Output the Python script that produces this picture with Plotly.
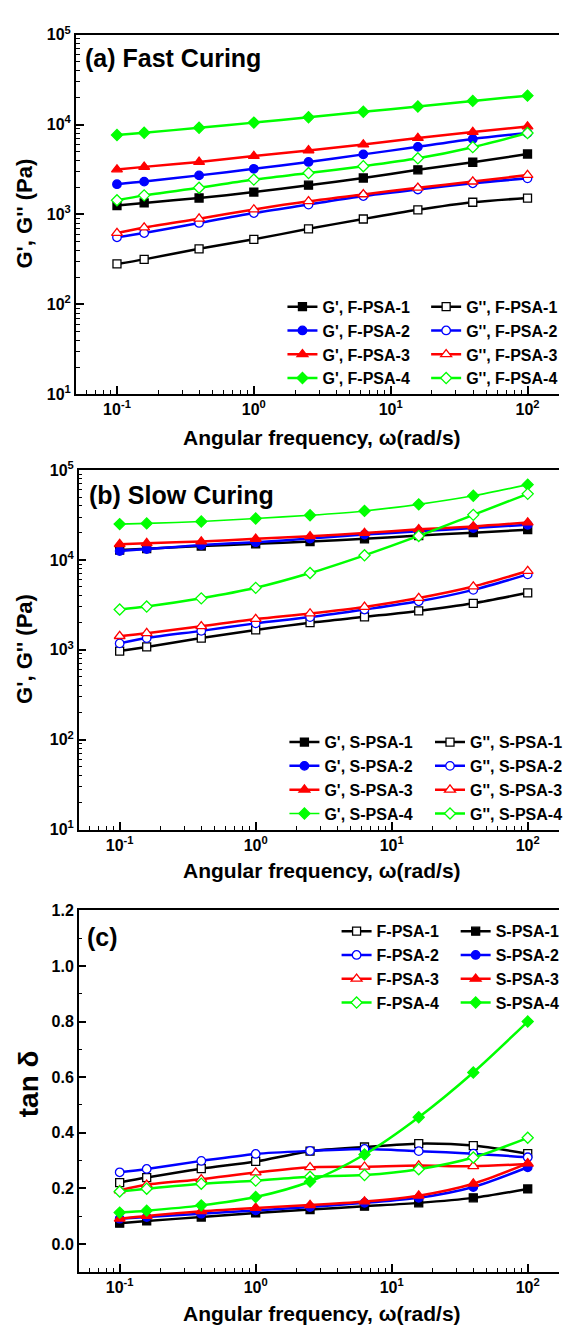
import plotly.graph_objects as go

W, H = 568, 1336

# ---------------- data ----------------
freq = [0.1, 0.158, 0.398, 1.0, 2.51, 6.31, 15.8, 39.8, 100]

# (a) Fast curing
a_Gp_1 = [1255, 1342, 1522, 1771, 2113, 2542, 3135, 3803, 4700]
a_Gpp_1 = [281, 316, 414, 528, 691, 889, 1125, 1365, 1521]
a_Gp_2 = [2168, 2317, 2718, 3214, 3837, 4655, 5646, 6906, 8035]
a_Gpp_2 = [556, 620, 804, 1035, 1286, 1600, 1892, 2220, 2518]
a_Gp_3 = [3162, 3380, 3837, 4467, 5155, 5990, 7080, 8240, 9510]
a_Gpp_3 = [620, 715, 897, 1135, 1400, 1670, 1977, 2317, 2742]
a_Gp_4 = [7640, 8110, 9190, 10500, 12030, 13870, 15860, 18320, 20950]
a_Gpp_4 = [1437, 1629, 1977, 2440, 2884, 3439, 4207, 5598, 8035]

# (b) Slow curing
b_Gp_1 = [12880, 13320, 14270, 15100, 16020, 17150, 18650, 20110, 21680]
b_Gpp_1 = [967, 1075, 1349, 1663, 2003, 2327, 2709, 3289, 4306]
b_Gp_2 = [12560, 13210, 14620, 15750, 17280, 19130, 20810, 22630, 24620]
b_Gpp_2 = [1178, 1349, 1623, 1968, 2310, 2803, 3461, 4644, 6903]
b_Gp_3 = [14980, 15360, 16020, 17150, 18340, 19940, 21880, 23600, 26110]
b_Gpp_3 = [1419, 1531, 1825, 2196, 2536, 3000, 3768, 5058, 7514]
b_Gp_4 = [25030, 25470, 26790, 28900, 31420, 35070, 41500, 51650, 68740]
b_Gpp_4 = [2803, 3026, 3735, 4890, 7140, 11250, 18480, 31700, 54300]

# (c) tan delta
c_F1 = [0.221, 0.239, 0.271, 0.297, 0.334, 0.349, 0.361, 0.354, 0.325]
c_F2 = [0.258, 0.270, 0.299, 0.324, 0.335, 0.342, 0.334, 0.325, 0.312]
c_F3 = [0.193, 0.213, 0.233, 0.257, 0.276, 0.278, 0.282, 0.280, 0.288]
c_F4 = [0.189, 0.199, 0.217, 0.228, 0.242, 0.248, 0.269, 0.311, 0.382]
c_S1 = [0.075, 0.083, 0.097, 0.112, 0.124, 0.136, 0.148, 0.166, 0.198]
c_S2 = [0.091, 0.097, 0.109, 0.121, 0.133, 0.148, 0.166, 0.205, 0.276]
c_S3 = [0.091, 0.101, 0.118, 0.130, 0.140, 0.153, 0.174, 0.217, 0.290]
c_S4 = [0.113, 0.120, 0.139, 0.169, 0.225, 0.322, 0.456, 0.617, 0.800]

x_tickvals = [0.1, 1, 10, 100]
x_ticktext = ["10<sup>-1</sup>", "10<sup>0</sup>", "10<sup>1</sup>", "10<sup>2</sup>"]
y_tickvals = [10, 100, 1000, 10000, 100000]
y_ticktext = ["10<sup>1</sup>", "10<sup>2</sup>", "10<sup>3</sup>", "10<sup>4</sup>", "10<sup>5</sup>"]
c_tickvals = [0.0, 0.2, 0.4, 0.6, 0.8, 1.0, 1.2]

colors = ["#000000", "#0000FF", "#FF0000", "#00FF00"]
symbols = ["square", "circle", "triangle-up", "diamond"]
msizes = [8, 8.5, 9.5, 8.5]

FONT = "Liberation Sans, Arial, sans-serif"


def px2x(px):
    return px / W


def py2y(py):
    return 1 - py / H


fig = go.Figure()


def add(x, y, i, filled, name, xa, ya, legend, lw=2.5):
    col = colors[i]
    fig.add_trace(go.Scatter(
        x=x, y=y, name=name, mode="lines+markers",
        xaxis=xa, yaxis=ya, legend=legend,
        line=dict(color=col, width=lw, shape="spline", smoothing=0.8),
        marker=dict(symbol=symbols[i], size=msizes[i],
                    color=col if filled else "white",
                    line=dict(color=col, width=1.3)),
    ))


a_Gp = [a_Gp_1, a_Gp_2, a_Gp_3, a_Gp_4]
a_Gpp = [a_Gpp_1, a_Gpp_2, a_Gpp_3, a_Gpp_4]
b_Gp = [b_Gp_1, b_Gp_2, b_Gp_3, b_Gp_4]
b_Gpp = [b_Gpp_1, b_Gpp_2, b_Gpp_3, b_Gpp_4]
c_F = [c_F1, c_F2, c_F3, c_F4]
c_S = [c_S1, c_S2, c_S3, c_S4]

for i in range(4):
    add(freq, a_Gp[i], i, True, f"G', F-PSA-{i+1}", "x", "y", "legend")
for i in range(4):
    add(freq, a_Gpp[i], i, False, f"G'', F-PSA-{i+1}", "x", "y", "legend2")
for i in range(4):
    add(freq, b_Gp[i], i, True, f"G', S-PSA-{i+1}", "x2", "y2", "legend3",
        lw=1.6 if i == 3 else 2.5)
for i in range(4):
    add(freq, b_Gpp[i], i, False, f"G'', S-PSA-{i+1}", "x2", "y2", "legend4")
for i in range(4):
    add(freq, c_F[i], i, False, f"F-PSA-{i+1}", "x3", "y3", "legend5")
for i in range(4):
    add(freq, c_S[i], i, True, f"S-PSA-{i+1}", "x3", "y3", "legend6")

tickfont = dict(family=FONT, size=16, color="black", weight="bold")
x_minor = [m * 10 ** e for e in range(-2, 3) for m in range(2, 10)]
y_minor = [m * 10 ** e for e in range(0, 6) for m in range(2, 10)]

xa_common = dict(
    type="log", range=[-1.30103, 2.23], showline=True, linecolor="black",
    linewidth=1.5, mirror=True, ticks="inside", ticklen=8, tickwidth=1.5,
    tickcolor="black", tickvals=x_tickvals, ticktext=x_ticktext,
    tickfont=tickfont, showgrid=False, zeroline=False,
    minor=dict(tickmode="array", tickvals=x_minor, ticks="inside",
               ticklen=4, tickwidth=1.2, tickcolor="black", showgrid=False),
)
ya_log = dict(
    type="log", range=[1, 5], showline=True, linecolor="black",
    linewidth=1.5, mirror=False, ticks="inside", ticklen=8, tickwidth=1.5,
    tickcolor="black", tickvals=y_tickvals, ticktext=y_ticktext,
    tickfont=tickfont, showgrid=False, zeroline=False,
    minor=dict(tickmode="array", tickvals=y_minor, ticks="inside",
               ticklen=4, tickwidth=1.2, tickcolor="black", showgrid=False),
)
ya_lin = dict(
    range=[-0.1, 1.2], showline=True, linecolor="black",
    linewidth=1.5, mirror=False, ticks="inside", ticklen=8, tickwidth=1.5,
    tickcolor="black", tickvals=c_tickvals, tickformat=".1f",
    tickfont=tickfont, showgrid=False, zeroline=False,
    minor=dict(dtick=0.1, tick0=0, ticks="inside",
               ticklen=4, tickwidth=1.2, tickcolor="black", showgrid=False),
)

fig.update_layout(
    width=W, height=H, margin=dict(l=0, r=0, t=0, b=0),
    paper_bgcolor="white", plot_bgcolor="white",
    xaxis=dict(xa_common, domain=[px2x(77), 1], anchor="y"),
    yaxis=dict(ya_log, domain=[py2y(389), py2y(24)], anchor="x"),
    xaxis2=dict(xa_common, domain=[px2x(80), 1], anchor="y2"),
    yaxis2=dict(ya_log, domain=[py2y(831), py2y(466)], anchor="x2"),
    xaxis3=dict(xa_common, domain=[px2x(80), 1], anchor="y3"),
    yaxis3=dict(ya_lin, domain=[py2y(1280), py2y(913)], anchor="x3"),
    showlegend=True,
)

legfont = dict(family=FONT, size=16, color="black", weight="bold")


def leg(xpx, ypx):
    return dict(x=px2x(xpx), y=py2y(ypx), xanchor="left", yanchor="top",
                bgcolor="rgba(0,0,0,0)", borderwidth=0, font=legfont,
                orientation="v", tracegroupgap=0)


fig.update_layout(
    legend=leg(287, 283),
    legend2=leg(433, 283),
    legend3=leg(289, 725),
    legend4=leg(437, 725),
    legend5=leg(342, 917),
    legend6=leg(463, 917),
)

ann_font = dict(family=FONT, color="black")
annotations = [
    dict(text="<b>(a) Fast Curing</b>", x=px2x(84), y=py2y(48), xanchor="left",
         yanchor="middle", font=dict(ann_font, size=25)),
    dict(text="<b>(b) Slow Curing</b>", x=px2x(88), y=py2y(491), xanchor="left",
         yanchor="middle", font=dict(ann_font, size=25)),
    dict(text="<b>(c)</b>", x=px2x(86), y=py2y(940), xanchor="left",
         yanchor="middle", font=dict(ann_font, size=25)),
    dict(text="<b>Angular frequency, ω(rad/s)</b>", x=px2x(327), y=py2y(433),
         xanchor="center", yanchor="middle", font=dict(ann_font, size=21)),
    dict(text="<b>Angular frequency, ω(rad/s)</b>", x=px2x(327), y=py2y(873),
         xanchor="center", yanchor="middle", font=dict(ann_font, size=21)),
    dict(text="<b>Angular frequency, ω(rad/s)</b>", x=px2x(327), y=py2y(1322),
         xanchor="center", yanchor="middle", font=dict(ann_font, size=21)),
    dict(text="<b>G', G'' (Pa)</b>", x=px2x(25), y=py2y(206), textangle=-90,
         xanchor="center", yanchor="middle", font=dict(ann_font, size=22)),
    dict(text="<b>G', G'' (Pa)</b>", x=px2x(25), y=py2y(648), textangle=-90,
         xanchor="center", yanchor="middle", font=dict(ann_font, size=22)),
    dict(text="<b>tan δ</b>", x=px2x(29), y=py2y(1089), textangle=-90,
         xanchor="center", yanchor="middle", font=dict(ann_font, size=28)),
]
for a in annotations:
    a.update(xref="paper", yref="paper", showarrow=False)
fig.update_layout(annotations=annotations)

fig.write_html("out.html")
